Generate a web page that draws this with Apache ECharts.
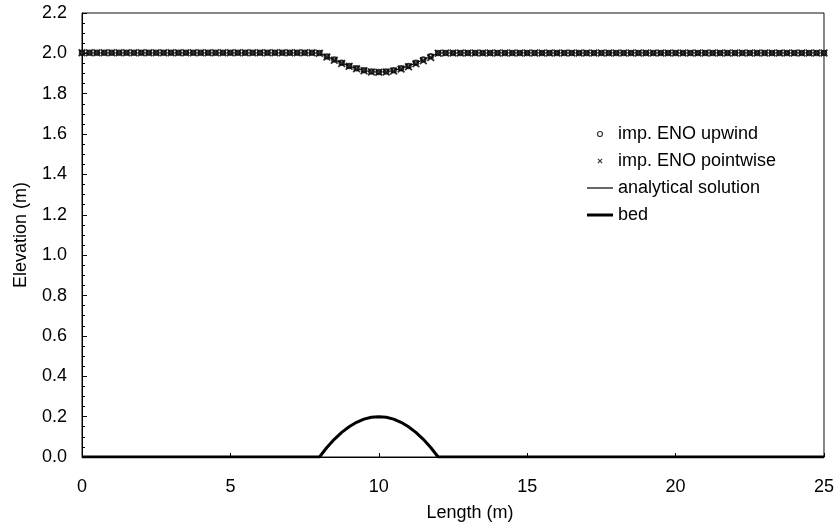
<!DOCTYPE html>
<html>
<head>
<meta charset="utf-8">
<script src="https://cdn.jsdelivr.net/npm/echarts@6/dist/echarts.min.js"></script>
<style>
  html, body { margin: 0; padding: 0; background: #fff; }
  #chart { width: 837px; height: 531px; }
</style>
</head>
<body>
<div id="chart"></div>
<script>
// Channel stations (m)
const lengthM = [
  0, 0.25, 0.5, 0.75, 1, 1.25, 1.5, 1.75, 2, 2.25, 2.5, 2.75, 3, 3.25, 3.5, 3.75,
  4, 4.25, 4.5, 4.75, 5, 5.25, 5.5, 5.75, 6, 6.25, 6.5, 6.75, 7, 7.25, 7.5, 7.75,
  8, 8.25, 8.5, 8.75, 9, 9.25, 9.5, 9.75, 10, 10.25, 10.5, 10.75, 11, 11.25, 11.5, 11.75,
  12, 12.25, 12.5, 12.75, 13, 13.25, 13.5, 13.75, 14, 14.25, 14.5, 14.75, 15, 15.25, 15.5, 15.75,
  16, 16.25, 16.5, 16.75, 17, 17.25, 17.5, 17.75, 18, 18.25, 18.5, 18.75, 19, 19.25, 19.5, 19.75,
  20, 20.25, 20.5, 20.75, 21, 21.25, 21.5, 21.75, 22, 22.25, 22.5, 22.75, 23, 23.25, 23.5, 23.75,
  24, 24.25, 24.5, 24.75, 25
];

// Water surface elevation, upwind scheme (m)
const upwindElev = [
  2.003, 2.003, 2.003, 2.003, 2.003, 2.003, 2.003, 2.003, 2.003, 2.003, 2.003, 2.003, 2.003, 2.003, 2.003, 2.003,
  2.003, 2.003, 2.003, 2.003, 2.003, 2.003, 2.003, 2.003, 2.003, 2.003, 2.003, 2.003, 2.003, 2.003, 2.003, 2.003,
  2.002, 1.985, 1.969, 1.953, 1.938, 1.926, 1.916, 1.910, 1.908, 1.910, 1.916, 1.926, 1.938, 1.953, 1.969, 1.986,
  2.002, 2.002, 2.002, 2.002, 2.002, 2.002, 2.002, 2.002, 2.002, 2.002, 2.002, 2.002, 2.002, 2.002, 2.002, 2.002,
  2.002, 2.002, 2.002, 2.002, 2.002, 2.002, 2.002, 2.002, 2.002, 2.002, 2.002, 2.002, 2.002, 2.002, 2.002, 2.002,
  2.002, 2.002, 2.002, 2.002, 2.002, 2.002, 2.002, 2.002, 2.002, 2.002, 2.002, 2.002, 2.002, 2.002, 2.002, 2.002,
  2.002, 2.002, 2.002, 2.002, 2.002
];

// Water surface elevation, pointwise scheme (m)
const pointwiseElev = [
  2.003, 2.003, 2.003, 2.003, 2.003, 2.003, 2.003, 2.003, 2.003, 2.003, 2.003, 2.003, 2.003, 2.003, 2.003, 2.003,
  2.003, 2.003, 2.003, 2.003, 2.003, 2.003, 2.003, 2.003, 2.003, 2.003, 2.003, 2.003, 2.003, 2.003, 2.003, 2.003,
  2.001, 1.982, 1.966, 1.950, 1.936, 1.924, 1.914, 1.908, 1.906, 1.908, 1.913, 1.922, 1.934, 1.948, 1.963, 1.979,
  2.001, 2.002, 2.002, 2.002, 2.002, 2.002, 2.002, 2.002, 2.002, 2.002, 2.002, 2.002, 2.002, 2.002, 2.002, 2.002,
  2.002, 2.002, 2.002, 2.002, 2.002, 2.002, 2.002, 2.002, 2.002, 2.002, 2.002, 2.002, 2.002, 2.002, 2.002, 2.002,
  2.002, 2.002, 2.002, 2.002, 2.002, 2.002, 2.002, 2.002, 2.002, 2.002, 2.002, 2.002, 2.002, 2.002, 2.002, 2.002,
  2.002, 2.002, 2.002, 2.002, 2.002
];

// Analytical water surface elevation (m)
const analyticalElev = [
  2.002, 2.002, 2.002, 2.002, 2.002, 2.002, 2.002, 2.002, 2.002, 2.002, 2.002, 2.002, 2.002, 2.002, 2.002, 2.002,
  2.002, 2.002, 2.002, 2.002, 2.002, 2.002, 2.002, 2.002, 2.002, 2.002, 2.002, 2.002, 2.002, 2.002, 2.002, 2.002,
  2.002, 1.984, 1.968, 1.952, 1.937, 1.925, 1.915, 1.909, 1.907, 1.909, 1.915, 1.925, 1.937, 1.952, 1.968, 1.984,
  2.002, 2.002, 2.002, 2.002, 2.002, 2.002, 2.002, 2.002, 2.002, 2.002, 2.002, 2.002, 2.002, 2.002, 2.002, 2.002,
  2.002, 2.002, 2.002, 2.002, 2.002, 2.002, 2.002, 2.002, 2.002, 2.002, 2.002, 2.002, 2.002, 2.002, 2.002, 2.002,
  2.002, 2.002, 2.002, 2.002, 2.002, 2.002, 2.002, 2.002, 2.002, 2.002, 2.002, 2.002, 2.002, 2.002, 2.002, 2.002,
  2.002, 2.002, 2.002, 2.002, 2.002
];

// Bed elevation with the hump between 8 m and 12 m (m)
const bedElev = [
  0, 0, 0, 0, 0, 0, 0, 0, 0, 0, 0, 0, 0, 0, 0, 0,
  0, 0, 0, 0, 0, 0, 0, 0, 0, 0, 0, 0, 0, 0, 0, 0,
  0, 0.047, 0.0875, 0.122, 0.15, 0.172, 0.1875, 0.197, 0.2, 0.197, 0.1875, 0.172, 0.15, 0.122, 0.0875, 0.047,
  0, 0, 0, 0, 0, 0, 0, 0, 0, 0, 0, 0, 0, 0, 0, 0,
  0, 0, 0, 0, 0, 0, 0, 0, 0, 0, 0, 0, 0, 0, 0, 0,
  0, 0, 0, 0, 0, 0, 0, 0, 0, 0, 0, 0, 0, 0, 0, 0,
  0, 0, 0, 0, 0
];

const seriesNames = ['imp. ENO upwind', 'imp. ENO pointwise', 'analytical solution', 'bed'];

const pairs = (ys) => lengthM.map((x, i) => [x, ys[i]]);
// Bold "x" marker outline
const crossPath = 'path://M1.6,0L5,3.4L8.4,0L10,1.6L6.6,5L10,8.4L8.4,10L5,6.6L1.6,10L0,8.4L3.4,5L0,1.6Z';
const thinLineIcon = 'path://M0,0H26V1.2H0Z';
const thickLineIcon = 'path://M0,0H26V3H0Z';
const font = 'Liberation Sans, Arial, sans-serif';
const fontSize = 18;
const black = '#000';

const chart = echarts.init(document.getElementById('chart'), null, { renderer: 'canvas' });

chart.setOption({
  backgroundColor: '#fff',
  animation: false,
  textStyle: { fontFamily: font, color: black },
  grid: {
    left: 82, right: 12, top: 13, bottom: 74,
    show: true, borderColor: '#111', borderWidth: 1, backgroundColor: 'transparent'
  },
  legend: {
    data: [
      { name: seriesNames[0], icon: 'circle', itemStyle: { color: '#fff', borderColor: black, borderWidth: 1.2 } },
      { name: seriesNames[1], icon: crossPath, itemStyle: { color: black } },
      { name: seriesNames[2], icon: thinLineIcon, itemStyle: { color: black } },
      { name: seriesNames[3], icon: thickLineIcon, itemStyle: { color: black } }
    ],
    orient: 'vertical',
    left: 587, top: 125, padding: 0,
    itemWidth: 26, itemHeight: 5, itemGap: 9,
    symbolKeepAspect: true,
    textStyle: { fontFamily: font, fontSize: fontSize, color: black },
    selectedMode: false
  },
  xAxis: {
    type: 'value', min: 0, max: 25, interval: 5,
    name: 'Length (m)', nameLocation: 'middle', nameGap: 47,
    nameTextStyle: { fontFamily: font, fontSize: fontSize, color: black, padding: [0, 0, 0, 34] },
    axisLine: { show: true, onZero: false, lineStyle: { color: black, width: 1 } },
    axisTick: { show: true, inside: true, length: 4, lineStyle: { color: black } },
    axisLabel: { margin: 21, fontFamily: font, fontSize: fontSize, color: black },
    splitLine: { show: false }
  },
  yAxis: {
    type: 'value', min: 0, max: 2.2, interval: 0.2,
    name: 'Elevation (m)', nameLocation: 'middle', nameGap: 52, nameRotate: 90,
    nameTextStyle: { fontFamily: font, fontSize: fontSize, color: black },
    axisLine: { show: true, lineStyle: { color: black, width: 1 } },
    axisTick: { show: true, inside: true, length: 5, lineStyle: { color: black } },
    minorTick: { show: true, splitNumber: 4, length: 3, lineStyle: { color: black } },
    axisLabel: {
      margin: 15, fontFamily: font, fontSize: fontSize, color: black,
      formatter: (v) => v.toFixed(1)
    },
    splitLine: { show: false }
  },
  series: [
    {
      name: seriesNames[2], type: 'line', data: pairs(analyticalElev),
      symbol: 'none', itemStyle: { color: black }, lineStyle: { color: black, width: 1 }, z: 2
    },
    {
      name: seriesNames[3], type: 'line', data: pairs(bedElev),
      symbol: 'none', itemStyle: { color: black }, lineStyle: { color: black, width: 3 }, z: 3
    },
    {
      name: seriesNames[0], type: 'scatter', data: pairs(upwindElev),
      symbol: 'emptyCircle', symbolSize: 4.5,
      itemStyle: { color: black, borderColor: black, borderWidth: 1.5 }, z: 4
    },
    {
      name: seriesNames[1], type: 'scatter', data: pairs(pointwiseElev),
      symbol: crossPath, symbolSize: 8,
      itemStyle: { color: black }, z: 5
    }
  ]
});
</script>
</body>
</html>
